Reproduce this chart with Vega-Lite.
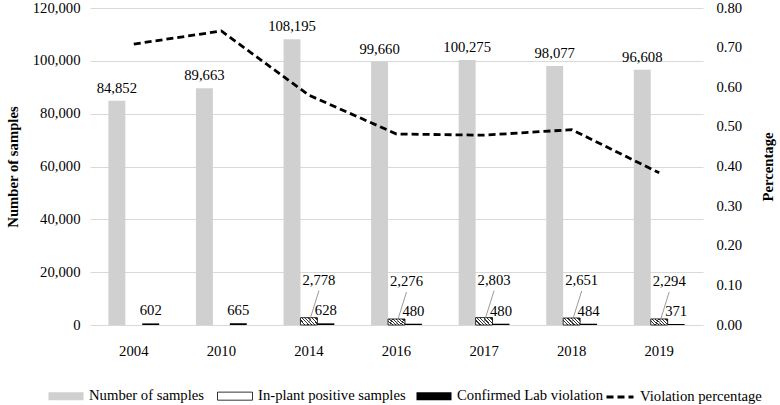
{
  "$schema": "https://vega.github.io/schema/vega-lite/v6.json",
  "width": 613,
  "height": 317,
  "padding": {"left": 5, "top": 0, "right": 4, "bottom": 2},
  "background": "#ffffff",
  "config": {
    "font": "Liberation Serif",
    "mark": {"font": "Liberation Serif"},
    "text": {"font": "Liberation Serif"},
    "view": {"stroke": null},
    "style": {"guide-label": {"font": "Liberation Serif", "fontSize": 14.7, "fill": "#000000"}, "guide-title": {"font": "Liberation Serif"}},
    "axis": {
      "labelFont": "Liberation Serif",
      "titleFont": "Liberation Serif",
      "labelFontSize": 14.7,
      "titleFontSize": 14.7,
      "labelColor": "#000000",
      "titleColor": "#000000",
      "ticks": false,
      "domain": false,
      "gridColor": "#d9d9d9"
    },
    "legend": {
      "labelFont": "Liberation Serif",
      "labelFontSize": 14.7,
      "labelColor": "#000000",
      "orient": "none",
      "direction": "horizontal",
      "title": null
    }
  },
  "datasets": {
    "bars": [
      {"year": "2004", "series": "Number of samples", "value": 84852},
      {"year": "2010", "series": "Number of samples", "value": 89663},
      {"year": "2014", "series": "Number of samples", "value": 108195},
      {"year": "2016", "series": "Number of samples", "value": 99660},
      {"year": "2017", "series": "Number of samples", "value": 100275},
      {"year": "2018", "series": "Number of samples", "value": 98077},
      {"year": "2019", "series": "Number of samples", "value": 96608},
      {"year": "2014", "series": "In-plant positive samples", "value": 2778},
      {"year": "2016", "series": "In-plant positive samples", "value": 2276},
      {"year": "2017", "series": "In-plant positive samples", "value": 2803},
      {"year": "2018", "series": "In-plant positive samples", "value": 2651},
      {"year": "2019", "series": "In-plant positive samples", "value": 2294},
      {"year": "2004", "series": "Confirmed Lab violation", "value": 602},
      {"year": "2010", "series": "Confirmed Lab violation", "value": 665},
      {"year": "2014", "series": "Confirmed Lab violation", "value": 628},
      {"year": "2016", "series": "Confirmed Lab violation", "value": 480},
      {"year": "2017", "series": "Confirmed Lab violation", "value": 480},
      {"year": "2018", "series": "Confirmed Lab violation", "value": 484},
      {"year": "2019", "series": "Confirmed Lab violation", "value": 371}
    ],
    "pct": [
      {"year": "2004", "series": "Violation percentage", "pct": 0.709},
      {"year": "2010", "series": "Violation percentage", "pct": 0.742},
      {"year": "2014", "series": "Violation percentage", "pct": 0.580},
      {"year": "2016", "series": "Violation percentage", "pct": 0.482},
      {"year": "2017", "series": "Violation percentage", "pct": 0.479},
      {"year": "2018", "series": "Violation percentage", "pct": 0.493},
      {"year": "2019", "series": "Violation percentage", "pct": 0.384}
    ]
  },
  "layer": [
    {
      "data": {"name": "bars"},
      "encoding": {
        "x": {
          "field": "year", "type": "nominal", "title": null,
          "scale": {"paddingInner": 0.42, "paddingOuter": 0.21},
          "axis": {"labelAngle": 0, "labelPadding": 18, "grid": false, "labelFont": "Liberation Serif", "labelFontSize": 14.7}
        },
        "y": {
          "field": "value", "type": "quantitative",
          "scale": {"domain": [0, 120000], "nice": false},
          "axis": {
            "orient": "left",
            "values": [0, 20000, 40000, 60000, 80000, 100000, 120000],
            "labelExpr": "format(datum.value, ',')",
            "labelFont": "Liberation Serif",
            "labelFontSize": 14.7,
            "title": "Number of samples",
            "titleFontWeight": "bold",
            "labelPadding": 10,
            "titlePadding": 12,
            "grid": true
          }
        },
        "xOffset": {
          "field": "series", "type": "nominal",
          "sort": ["Number of samples", "In-plant positive samples", "Confirmed Lab violation"],
          "scale": {"domain": ["Number of samples", "In-plant positive samples", "Confirmed Lab violation"], "paddingInner": 0, "paddingOuter": 0}
        }
      },
      "layer": [
        {
          "mark": {"type": "bar"},
          "encoding": {
            "color": {
              "field": "series", "type": "nominal",
              "sort": ["Number of samples", "In-plant positive samples", "Confirmed Lab violation"],
              "scale": {
                "domain": ["Number of samples", "In-plant positive samples", "Confirmed Lab violation"],
                "range": ["#d0d0d0", "#ffffff", "#000000"]
              },
              "legend": {
                "orient": "none",
                "legendX": -42,
                "legendY": 370,
                "symbolType": "M-1,-0.23H1V0.23H-1Z",
                "symbolSize": 1225,
                "symbolStrokeWidth": 0,
                "labelOffset": 5,
                "columnPadding": 10,
                "encode": {
                  "symbols": {
                    "update": {
                      "fill": [
                        {"test": "datum.value === 'In-plant positive samples'", "value": {"gradient": "linear", "x1": 0, "y1": 0.8, "x2": 1, "y2": 0.2, "stops": [
                          {"offset": 0, "color": "#ffffff"}, {"offset": 0.055, "color": "#ffffff"},
                          {"offset": 0.055, "color": "#222222"}, {"offset": 0.1, "color": "#222222"},
                          {"offset": 0.1, "color": "#ffffff"}, {"offset": 0.155, "color": "#ffffff"},
                          {"offset": 0.155, "color": "#222222"}, {"offset": 0.2, "color": "#222222"},
                          {"offset": 0.2, "color": "#ffffff"}, {"offset": 0.255, "color": "#ffffff"},
                          {"offset": 0.255, "color": "#222222"}, {"offset": 0.3, "color": "#222222"},
                          {"offset": 0.3, "color": "#ffffff"}, {"offset": 0.355, "color": "#ffffff"},
                          {"offset": 0.355, "color": "#222222"}, {"offset": 0.4, "color": "#222222"},
                          {"offset": 0.4, "color": "#ffffff"}, {"offset": 0.455, "color": "#ffffff"},
                          {"offset": 0.455, "color": "#222222"}, {"offset": 0.5, "color": "#222222"},
                          {"offset": 0.5, "color": "#ffffff"}, {"offset": 0.555, "color": "#ffffff"},
                          {"offset": 0.555, "color": "#222222"}, {"offset": 0.6, "color": "#222222"},
                          {"offset": 0.6, "color": "#ffffff"}, {"offset": 0.655, "color": "#ffffff"},
                          {"offset": 0.655, "color": "#222222"}, {"offset": 0.7, "color": "#222222"},
                          {"offset": 0.7, "color": "#ffffff"}, {"offset": 0.755, "color": "#ffffff"},
                          {"offset": 0.755, "color": "#222222"}, {"offset": 0.8, "color": "#222222"},
                          {"offset": 0.8, "color": "#ffffff"}, {"offset": 0.855, "color": "#ffffff"},
                          {"offset": 0.855, "color": "#222222"}, {"offset": 0.9, "color": "#222222"},
                          {"offset": 0.9, "color": "#ffffff"}, {"offset": 0.955, "color": "#ffffff"},
                          {"offset": 0.955, "color": "#222222"}, {"offset": 1, "color": "#222222"}
                        ]}},
                        {"scale": "color", "field": "value"}
                      ],
                      "stroke": [
                        {"test": "datum.value === 'In-plant positive samples'", "value": "#000000"},
                        {"value": null}
                      ],
                      "strokeWidth": {"value": 0.8}
                    }
                  }
                }
              }
            }
          }
        },
        {
          "transform": [{"filter": "datum.series === 'In-plant positive samples'"}],
          "mark": {
            "type": "bar",
            "stroke": "#000000",
            "strokeWidth": 0.8,
            "fill": {"gradient": "linear", "x1": 0, "y1": 0.7, "x2": 1, "y2": 0.29, "stops": [
              {"offset": 0, "color": "#ffffff"}, {"offset": 0.105, "color": "#ffffff"},
              {"offset": 0.105, "color": "#333333"}, {"offset": 0.167, "color": "#333333"},
              {"offset": 0.167, "color": "#ffffff"}, {"offset": 0.272, "color": "#ffffff"},
              {"offset": 0.272, "color": "#333333"}, {"offset": 0.333, "color": "#333333"},
              {"offset": 0.333, "color": "#ffffff"}, {"offset": 0.438, "color": "#ffffff"},
              {"offset": 0.438, "color": "#333333"}, {"offset": 0.5, "color": "#333333"},
              {"offset": 0.5, "color": "#ffffff"}, {"offset": 0.605, "color": "#ffffff"},
              {"offset": 0.605, "color": "#333333"}, {"offset": 0.667, "color": "#333333"},
              {"offset": 0.667, "color": "#ffffff"}, {"offset": 0.772, "color": "#ffffff"},
              {"offset": 0.772, "color": "#333333"}, {"offset": 0.833, "color": "#333333"},
              {"offset": 0.833, "color": "#ffffff"}, {"offset": 0.938, "color": "#ffffff"},
              {"offset": 0.938, "color": "#333333"}, {"offset": 1, "color": "#333333"}
            ]}
          }
        },
        {
          "transform": [{"filter": "datum.series !== 'In-plant positive samples'"}],
          "mark": {"type": "text", "baseline": "bottom", "dy": -5, "font": "Liberation Serif", "fontSize": 14.7, "color": "#000000"},
          "encoding": {
            "text": {"field": "value", "type": "quantitative", "format": ","}
          }
        },
        {
          "transform": [{"filter": "datum.series === 'In-plant positive samples'"}],
          "mark": {"type": "text", "baseline": "bottom", "dy": -30, "dx": 10, "font": "Liberation Serif", "fontSize": 14.7, "color": "#000000"},
          "encoding": {
            "text": {"field": "value", "type": "quantitative", "format": ","}
          }
        },
        {
          "transform": [{"filter": "datum.series === 'In-plant positive samples'"}],
          "mark": {"type": "rule", "color": "#808080", "strokeWidth": 0.8, "yOffset": 5, "y2Offset": -27, "x2Offset": 10},
          "encoding": {
            "xOffset": null,
            "x2": {"field": "year"},
            "y2": {"field": "value"}
          }
        }
      ]
    },
    {
      "data": {"name": "pct"},
      "mark": {"type": "line", "color": "#000000", "strokeWidth": 2.8},
      "encoding": {
        "x": {
          "field": "year", "type": "nominal", "title": null,
          "axis": {"labelAngle": 0, "labelPadding": 18, "grid": false, "labelFont": "Liberation Serif", "labelFontSize": 14.7}
        },
        "y": {
          "field": "pct", "type": "quantitative",
          "scale": {"domain": [0, 0.8], "nice": false},
          "axis": {
            "orient": "right",
            "values": [0, 0.1, 0.2, 0.3, 0.4, 0.5, 0.6, 0.7, 0.8],
            "labelExpr": "format(datum.value, '.2f')",
            "labelFont": "Liberation Serif",
            "labelFontSize": 14.7,
            "title": "Percentage",
            "titleFontWeight": "bold",
            "titleAngle": -90,
            "titleBaseline": "top",
            "labelPadding": 13,
            "titlePadding": 19,
            "grid": false
          }
        },
        "strokeDash": {
          "field": "series", "type": "nominal",
          "scale": {"range": [[7, 4]]},
          "legend": {
            "orient": "none",
            "legendX": 515,
            "legendY": 374,
            "symbolType": "stroke",
            "symbolStrokeColor": "#000000",
            "symbolStrokeWidth": 2.8,
            "symbolSize": 729,
            "labelOffset": 5
          }
        }
      }
    }
  ],
  "resolve": {"scale": {"y": "independent"}}
}
